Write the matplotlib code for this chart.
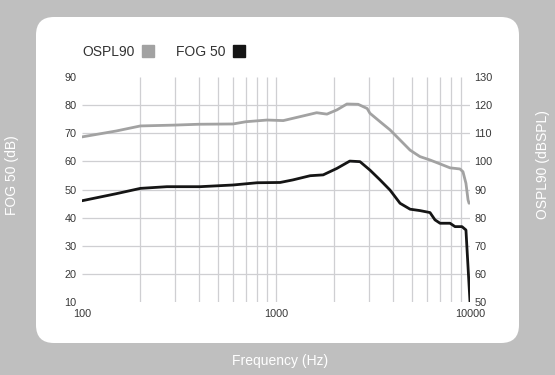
import numpy as np
import matplotlib
matplotlib.use("Agg")
import matplotlib.pyplot as plt
from matplotlib.lines import Line2D
from matplotlib.patches import FancyBboxPatch

plt.rcParams["font.family"] = ["Liberation Sans", "DejaVu Sans"]

# OSPL90 curve, right axis (dBSPL)
ospl_freq = [100, 150, 200, 300, 400, 600, 700, 900, 1090, 1330, 1620, 1830,
             2060, 2320, 2650, 2950, 3050, 3440, 3870, 4360, 4910, 5520,
             6220, 7010, 7890, 8880, 9200, 9530, 9770, 9890]
ospl_db = [108.7, 110.8, 112.6, 112.9, 113.2, 113.3, 114.1, 114.7, 114.5,
           115.9, 117.3, 116.8, 118.3, 120.4, 120.3, 118.8, 117.1, 114.1,
           111.2, 107.6, 104.0, 101.7, 100.5, 99.1, 97.7, 97.3, 96.3, 92.2,
           86.3, 85.1]

# FOG 50 curve, left axis (dB)
fog_freq = [100, 150, 200, 274, 406, 600, 800, 1050, 1220, 1500, 1750, 2060,
            2400, 2710, 3050, 3440, 3870, 4360, 4910, 5520, 6220, 6600, 7010,
            7890, 8370, 9090, 9530, 10000]
fog_db = [46.0, 48.5, 50.4, 51.0, 51.0, 51.6, 52.4, 52.5, 53.4, 54.9, 55.2,
          57.5, 60.1, 59.9, 56.9, 53.4, 49.8, 45.1, 43.0, 42.5, 41.8, 39.2,
          38.0, 38.0, 36.8, 36.8, 35.6, 10.1]

left_ticks = [10, 20, 30, 40, 50, 60, 70, 80, 90]
right_ticks = [50, 60, 70, 80, 90, 100, 110, 120, 130]
x_ticks = [100, 1000, 10000]
x_grid = [200, 300, 400, 500, 600, 700, 800, 900, 1000,
          2000, 3000, 4000, 5000, 6000, 7000, 8000, 9000]
y_grid = [20, 30, 40, 50, 60, 70, 80]

W, H = 555, 375
BG = "#bfbfbf"
OSPL_COLOR = "#a2a2a2"
FOG_COLOR = "#151515"
GRID = "#cfcfd2"
TICK = "#383838"


def main():
    fig = plt.figure(figsize=(W / 100, H / 100), dpi=100, facecolor=BG)

    # card + gradient panel, in pixel coordinates
    bg = fig.add_axes([0, 0, 1, 1])
    bg.set_xlim(0, W)
    bg.set_ylim(H, 0)
    bg.axis("off")
    card = FancyBboxPatch((36, 17), 483, 326,
                          boxstyle="round,pad=0,rounding_size=18",
                          fc="white", ec="none")
    bg.add_patch(card)
    panel = FancyBboxPatch((48, 43), 459, 288,
                           boxstyle="round,pad=0,rounding_size=14",
                           fc="none", ec="none")
    bg.add_patch(panel)
    top = np.array([1.0, 1.0, 1.0])
    bottom = np.array([0.863, 0.863, 0.882])
    t = np.linspace(0, 1, 256)[:, None, None]
    grad = top * (1 - t) + bottom * t
    grad = np.repeat(grad, 2, axis=1)
    im = bg.imshow(grad, extent=(48, 507, 331, 43), aspect="auto",
                   interpolation="bilinear")
    im.set_clip_path(panel)

    ax = fig.add_axes([82 / W, 1 - 302 / H, 388 / W, 225 / H])
    ax.patch.set_alpha(0)
    ax.set_xscale("log")
    ax.set_xlim(100, 10000)
    ax.set_ylim(10, 90)
    ax.vlines(x_grid, 10, 90, color=GRID, lw=0.9, zorder=0)
    ax.hlines(y_grid, 100, 10000, color=GRID, lw=0.9, zorder=0)

    ax.set_xticks(x_ticks, labels=[str(v) for v in x_ticks])
    ax.xaxis.set_minor_locator(matplotlib.ticker.NullLocator())
    ax.set_yticks(left_ticks)
    for s in ax.spines.values():
        s.set_visible(False)
    ax.tick_params(axis="both", length=0, labelsize=7.8, labelcolor=TICK)
    ax.tick_params(axis="x", pad=5)
    ax.tick_params(axis="y", pad=4)

    ax2 = ax.twinx()
    ax2.set_ylim(50, 130)
    ax2.set_yticks(right_ticks)
    for s in ax2.spines.values():
        s.set_visible(False)
    ax2.tick_params(axis="y", length=0, labelsize=7.8, labelcolor=TICK, pad=3)

    ax2.plot(ospl_freq, ospl_db, color=OSPL_COLOR, lw=2.0,
             solid_joinstyle="round", solid_capstyle="round")
    ax.plot(fog_freq, fog_db, color=FOG_COLOR, lw=2.0,
            solid_joinstyle="round", solid_capstyle="round")

    handles = [
        Line2D([0], [0], ls="none", marker="s", markersize=8.5,
               mfc=OSPL_COLOR, mec=OSPL_COLOR, label="OSPL90"),
        Line2D([0], [0], ls="none", marker="s", markersize=8.5,
               mfc=FOG_COLOR, mec=FOG_COLOR, label="FOG 50"),
    ]
    fig.legend(handles=handles, loc="center left",
               bbox_to_anchor=(82 / W, 1 - 52 / H),
               bbox_transform=fig.transFigure, ncol=2, frameon=False,
               markerfirst=False, fontsize=10, labelcolor="#333333",
               handlelength=0.9, handletextpad=0.5, columnspacing=1.6,
               borderpad=0, borderaxespad=0)

    fig.text(12.5 / W, 1 - 175 / H, "FOG 50 (dB)", rotation=90,
             ha="center", va="center", color="white", fontsize=10)
    fig.text(543 / W, 1 - 165 / H, "OSPL90 (dBSPL)", rotation=90,
             ha="center", va="center", color="white", fontsize=10)
    fig.text(280 / W, 1 - 361 / H, "Frequency (Hz)",
             ha="center", va="center", color="white", fontsize=10)

    fig.savefig("out.png", dpi=100, facecolor=BG)
    plt.close(fig)


if __name__ == "__main__":
    main()
